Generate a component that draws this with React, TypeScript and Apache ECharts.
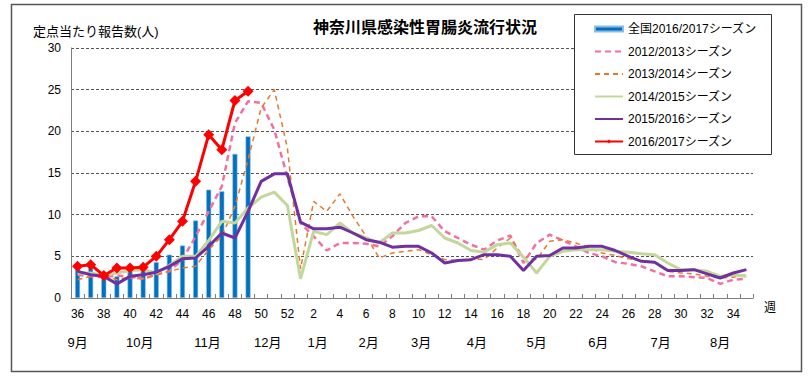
import React, { useEffect, useRef } from 'react';
import * as echarts from 'echarts';

const weeks = ['36','37','38','39','40','41','42','43','44','45','46','47','48','49','50','51','52',
  '1','2','3','4','5','6','7','8','9','10','11','12','13','14','15','16','17','18','19','20',
  '21','22','23','24','25','26','27','28','29','30','31','32','33','34','35'];

const monthLabels = ['9月','10月','11月','12月','1月','2月','3月','4月','5月','6月','7月','8月'];
// month label anchor, in week-index units along the axis
const monthAnchor = [0, 4.75, 9.9, 14.5, 18.3, 22.2, 26.2, 30.45, 35.0, 39.7, 44.45, 49.0];

const national1617 = [3.6, 3.8, 2.4, 2.6, 3.2, 3.6, 4.3, 5.2, 6.3, 9.3, 13.0, 12.8, 17.3, 19.4];
const season1213 = [2.8,2.6,2.5,2.7,2.5,2.3,2.8,3.2,4.6,7.4, 10.4,13.4,21.0,23.6,23.4,20.2,14.5,9.0,7.4,5.7,
  6.6,6.6,6.5,6.2,7.4,9.0,9.8,9.8,8.0,7.2, 6.4,5.8,6.9,7.5,4.2,6.6,7.6,6.9,6.2,5.4,
  5.0,4.3,4.1,3.8,3.2,2.6,2.6,2.5,2.4,1.7, 2.2,2.3];
const season1314 = [2.2,2.6,2.6,2.2,2.5,2.3,2.8,3.2,3.6,3.8, 5.8,7.4,11.0,16.6,22.8,25.0,18.0,3.5,11.6,10.4,
  12.5,9.8,7.4,4.8,5.4,5.6,5.8,5.2,4.6,4.5, 4.7,4.6,6.0,7.2,4.9,4.6,6.8,7.0,6.6,6.0,
  5.4,5.1,4.7,4.5,4.3,3.2,3.0,2.9,2.6,2.4, 2.5,2.8];
const season1415 = [3.0,3.0,2.7,3.0,3.3,3.4,3.0,3.9,5.0,5.0, 6.9,9.2,9.0,10.8,12.1,12.7,11.1,2.3,8.0,7.6,
  9.0,7.8,7.2,6.6,7.8,7.8,8.1,8.7,7.2,6.6, 5.7,5.5,6.4,6.6,4.9,3.0,5.0,5.6,5.8,5.8,
  5.8,5.6,5.5,5.3,5.2,4.2,3.4,3.4,3.2,2.6, 2.8,2.6];
const season1516 = [3.2,2.8,2.6,1.7,2.6,2.8,3.1,3.8,4.7,4.8, 6.2,7.8,7.2,10.4,14.0,14.9,14.9,9.1,8.3,8.3,
  8.5,7.8,7.0,6.7,6.1,6.2,6.2,5.4,4.2,4.5, 4.6,5.2,5.2,5.0,3.3,5.0,5.1,6.0,6.0,6.2,
  6.2,5.7,5.0,4.4,4.3,3.3,3.3,3.4,2.9,2.4, 3.0,3.4];
const season1617 = [3.8, 4.0, 2.7, 3.6, 3.6, 3.7, 5.0, 7.0, 9.2, 14.0, 19.6, 17.8, 23.7, 24.8];

const seriesNames = ['全国2016/2017シーズン', '2012/2013シーズン', '2013/2014シーズン',
  '2014/2015シーズン', '2015/2016シーズン', '2016/2017シーズン'];

const FONT = "'Liberation Sans', 'Noto Sans CJK JP', sans-serif";

export default function App() {
  const ref = useRef<HTMLDivElement>(null);
  useEffect(() => {
    const chart = echarts.init(ref.current!, null, { renderer: 'svg' });
    const noSymbol = { itemStyle: { opacity: 0 } };
    chart.setOption({
      animation: false,
      backgroundColor: '#fff',
      textStyle: { fontFamily: FONT },
      title: {
        text: '神奈川県感染性胃腸炎流行状況',
        left: 308, top: 13,
        textStyle: { fontSize: 16, fontWeight: 'bold', color: '#000', fontFamily: "'Noto Sans CJK JP', sans-serif" },
      },
      grid: { left: 71, right: 58, top: 48, bottom: 83 },
      legend: {
        orient: 'vertical', left: 594, top: 23, padding: 0,
        itemWidth: 28, itemHeight: 5, itemGap: 10.5,
        textStyle: { fontSize: 12, color: '#000', fontFamily: FONT },
        data: [
          { name: seriesNames[0], icon: 'rect' },
          { name: seriesNames[1], ...noSymbol },
          { name: seriesNames[2], ...noSymbol },
          { name: seriesNames[3], ...noSymbol },
          { name: seriesNames[4], ...noSymbol },
          seriesNames[5],
        ],
      },
      xAxis: {
        type: 'category', data: weeks, boundaryGap: true,
        axisLine: { lineStyle: { color: '#7f7f7f', width: 1 } },
        axisTick: { show: true, inside: true, length: 4, interval: 0, lineStyle: { color: '#7f7f7f' } },
        axisLabel: { interval: 1, margin: 10, fontSize: 12, color: '#000', fontFamily: FONT },
        splitLine: { show: false },
      },
      yAxis: {
        type: 'value', min: 0, max: 30, interval: 5,
        axisLine: { show: true, lineStyle: { color: '#7f7f7f', width: 1 } },
        axisTick: { show: false },
        axisLabel: { margin: 10, fontSize: 12, color: '#000', fontFamily: FONT },
        splitLine: { show: true, lineStyle: { color: '#555', type: [3, 2], width: 1 } },
      },
      series: [
        {
          name: seriesNames[0], type: 'bar', data: national1617, barWidth: 5,
          itemStyle: { color: '#0070C0', borderColor: '#8cbbe3', borderWidth: 0.6 }, z: 1,
        },
        {
          name: seriesNames[1], type: 'line', data: season1213, symbol: 'none',
          lineStyle: { color: '#F2709F', width: 2.5, type: [6, 4] }, itemStyle: { color: '#F2709F' }, z: 2,
        },
        {
          name: seriesNames[2], type: 'line', data: season1314, symbol: 'none',
          lineStyle: { color: '#E57A2C', width: 1.5, type: [5, 4] }, itemStyle: { color: '#E57A2C' }, z: 2,
        },
        {
          name: seriesNames[3], type: 'line', data: season1415, symbol: 'none',
          lineStyle: { color: '#C3D69B', width: 3 }, itemStyle: { color: '#C3D69B' }, z: 2,
        },
        {
          name: seriesNames[4], type: 'line', data: season1516, symbol: 'none',
          lineStyle: { color: '#7030A0', width: 3 }, itemStyle: { color: '#7030A0' }, z: 3,
        },
        {
          name: seriesNames[5], type: 'line', data: season1617, symbol: 'diamond', symbolSize: 11,
          showAllSymbol: true,
          lineStyle: { color: '#FF0000', width: 3 }, itemStyle: { color: '#FF0000' }, z: 4,
        },
      ],
    });

    const p0 = chart.convertToPixel({ xAxisIndex: 0 }, weeks[0]) as number;
    const p1 = chart.convertToPixel({ xAxisIndex: 0 }, weeks[1]) as number;
    const step = p1 - p0;
    const monthTexts = monthLabels.map((m, i) => ({
      type: 'text',
      x: p0 + monthAnchor[i] * step,
      y: 342,
      style: { text: m, fontSize: 13, fill: '#000', align: 'center', verticalAlign: 'middle', fontFamily: FONT },
    }));

    chart.setOption({
      graphic: [
        {
          type: 'rect', shape: { x: 11.5, y: 4.5, width: 790, height: 367 },
          style: { fill: 'none', stroke: '#555', lineWidth: 1.5 }, z: 10,
        },
        {
          type: 'rect', shape: { x: 574.5, y: 14.5, width: 197, height: 140 },
          style: { fill: '#fff', stroke: '#333', lineWidth: 1 }, z: 3,
        },
        {
          type: 'text', x: 33, y: 31,
          style: { text: '定点当たり報告数(人)', fontSize: 13, fill: '#000', align: 'left', verticalAlign: 'middle', fontFamily: FONT },
        },
        {
          type: 'text', x: 770, y: 308,
          style: { text: '週', fontSize: 12, fill: '#000', align: 'center', verticalAlign: 'middle', fontFamily: FONT },
        },
        ...monthTexts,
      ],
    });
    return () => chart.dispose();
  }, []);
  return <div ref={ref} style={{ position: 'absolute', left: 0, top: 0, width: 811, height: 381, background: '#fff' }} />;
}
